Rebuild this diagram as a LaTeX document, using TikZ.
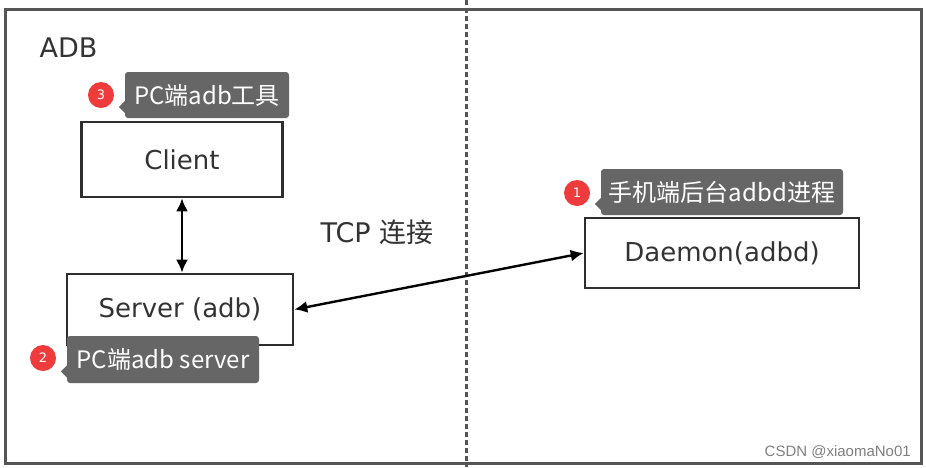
\documentclass[tikz,border=0pt]{standalone}
\usepackage{fontspec}
\setmainfont{DejaVu Sans}
\newfontfamily\cjk{Noto Sans CJK SC}
\newfontfamily\wmfont{Liberation Sans}
\usetikzlibrary{arrows.meta}
\definecolor{boxline}{HTML}{2E2E2E}
\definecolor{frameline}{HTML}{555555}
\definecolor{txtgray}{HTML}{333333}
\definecolor{tipbg}{HTML}{666666}
\definecolor{badgered}{HTML}{EE3B3B}
\tikzset{
  compbox/.style={draw=boxline, line width=2.6pt, fill=white, text=txtgray, font=\fontsize{26}{30}\selectfont, inner sep=0pt},
  tipbox/.style={fill=tipbg, rounded corners=3pt, text=white, font=\cjk\fontsize{24}{28}\selectfont, inner sep=0pt},
  badge/.style={circle, fill=badgered, text=white, font=\fontsize{13}{15}\selectfont, minimum size=26pt, inner sep=0pt},
  conn/.style={line width=2.4pt, draw=black, {Latex[length=13pt,width=12pt]}-{Latex[length=13pt,width=12pt]}},
}
\begin{document}
\begin{tikzpicture}[x=1pt,y=-1pt]
\useasboundingbox[fill=white] (0,0) rectangle (926,467);
% outer frame
\draw[frameline, line width=3pt] (5,9) rectangle (921,463);
% dashed divider
\coordinate (dtop) at (466,0);
\coordinate (dbot) at (466,467);
\draw[frameline, line width=3pt, dash pattern=on 5pt off 3pt] (dtop) -- (dbot);
% label
\node[anchor=west, text=txtgray, font=\fontsize{27}{30}\selectfont] (adb) at (36,48) {ADB};
% boxes
\node[compbox, minimum width=201pt, minimum height=75pt] (client) at (182,159.5) {Client};
\node[compbox, minimum width=226pt, minimum height=71pt] (server) at (180,309.5) {Server (adb)};
\node[compbox, minimum width=274pt, minimum height=70pt] (daemon) at (722,253) {Daemon(adbd)};
% connectors
\draw[conn] (client.south) -- (client.south |- server.north);
\draw[conn] (server.east) -- (daemon.west);
\node[text=txtgray, font=\fontsize{27}{30}\selectfont] (tcp) at (377,232) {TCP {\cjk 连接}};
% callouts
\node[tipbox, minimum width=164pt, minimum height=46pt] (t3) at (207,95) {PC端adb工具};
\fill[tipbg] ([yshift=-6pt]t3.west) -- ++(-6,6) -- ++(6,6) -- cycle;
\node[badge] (b3) at (101,95) {3};
\node[tipbox, minimum width=192pt, minimum height=47pt] (t2) at (163,359.5) {PC端adb server};
\fill[tipbg] ([yshift=-6pt]t2.west) -- ++(-6,6) -- ++(6,6) -- cycle;
\node[badge] (b2) at (43,358) {2};
\node[tipbox, minimum width=242pt, minimum height=46pt] (t1) at (722,192) {手机端后台adbd进程};
\fill[tipbg] ([yshift=-6pt]t1.west) -- ++(-6,6) -- ++(6,6) -- cycle;
\node[badge] (b1) at (577,193) {1};
% watermark
\node[anchor=south east, text=black!50, font=\wmfont\fontsize{15}{17}\selectfont, inner sep=0pt] (wm) at (911,459) {CSDN @xiaomaNo01};
\end{tikzpicture}
\end{document}
